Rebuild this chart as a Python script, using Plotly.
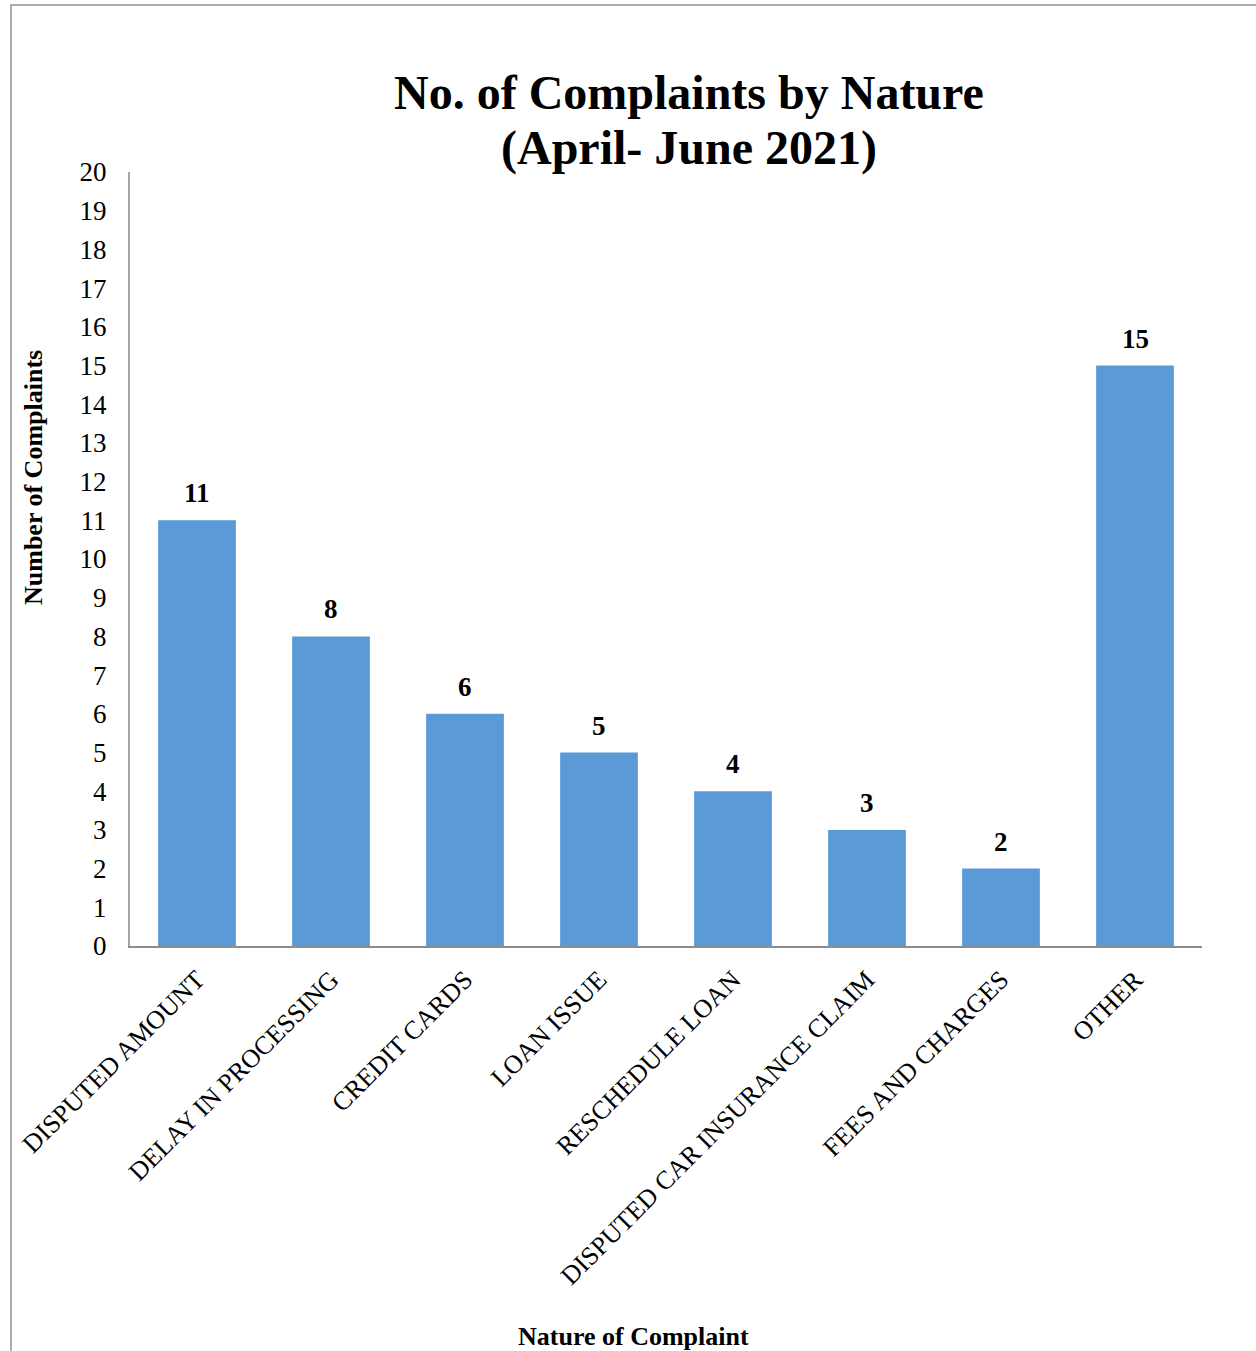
import plotly.graph_objects as go

categories = ["DISPUTED AMOUNT", "DELAY IN PROCESSING", "CREDIT CARDS", "LOAN ISSUE",
              "RESCHEDULE LOAN", "DISPUTED CAR INSURANCE CLAIM", "FEES AND CHARGES", "OTHER"]
complaints = [11, 8, 6, 5, 4, 3, 2, 15]
y_ticks = list(range(0, 21))
title_lines = ["No. of Complaints by Nature", "(April- June 2021)"]

W, H = 1256, 1351
ML, MR, MT, MB = 130, 54, 172, 405
PW, PH = W - ML - MR, H - MT - MB

def px_x(px):
    return (px - ML) / PW

def px_y(py):
    return (H - MB - py) / PH

FONT = "Liberation Serif"

fig = go.Figure()
fig.add_trace(go.Bar(
    x=categories, y=complaints,
    marker=dict(color="#5a9ad6", line=dict(width=0)),
    showlegend=False,
))

for c, v in zip(categories, complaints):
    fig.add_annotation(x=c, y=v, text=f"<b>{v}</b>", showarrow=False,
                       yanchor="bottom", yshift=10,
                       font=dict(family=FONT, size=27, color="black"))

for line, ypx in zip(title_lines, [93, 148]):
    fig.add_annotation(xref="paper", yref="paper", x=px_x(689), y=px_y(ypx),
                       text=f"<b>{line}</b>", showarrow=False,
                       xanchor="center", yanchor="middle",
                       font=dict(family=FONT, size=48, color="black"))

fig.add_annotation(xref="paper", yref="paper", x=px_x(633), y=px_y(1336),
                   text="<b>Nature of Complaint</b>", showarrow=False,
                   xanchor="center", yanchor="middle",
                   font=dict(family=FONT, size=26, color="black"))
fig.add_annotation(xref="paper", yref="paper", x=px_x(33), y=px_y(478),
                   text="<b>Number of Complaints</b>", showarrow=False, textangle=-90,
                   xanchor="center", yanchor="middle",
                   font=dict(family=FONT, size=26, color="black"))

fig.add_shape(type="rect", xref="paper", yref="paper",
              x0=px_x(11), x1=px_x(1264), y0=px_y(1365), y1=px_y(5),
              line=dict(color="#ababab", width=2), layer="below")

fig.update_layout(
    width=W, height=H,
    margin=dict(l=ML, r=MR, t=MT, b=MB, autoexpand=False),
    paper_bgcolor="white", plot_bgcolor="white",
    bargap=0.42,
    font=dict(family=FONT, color="black"),
)
fig.update_xaxes(showline=True, linecolor="#8c8c8c", linewidth=2,
                 tickangle=-45, tickfont=dict(family=FONT, size=26, color="black"),
                 ticks="outside", ticklen=6, tickcolor="rgba(0,0,0,0)",
                 showgrid=False, zeroline=False, fixedrange=True)
fig.update_yaxes(range=[0, 20], tickvals=y_ticks, showline=True, linecolor="#a6a6a6", linewidth=2,
                 tickfont=dict(family=FONT, size=27, color="black"),
                 ticks="outside", ticklen=16, tickcolor="rgba(0,0,0,0)",
                 showgrid=False, zeroline=False, fixedrange=True)

fig.write_html("out.html")
